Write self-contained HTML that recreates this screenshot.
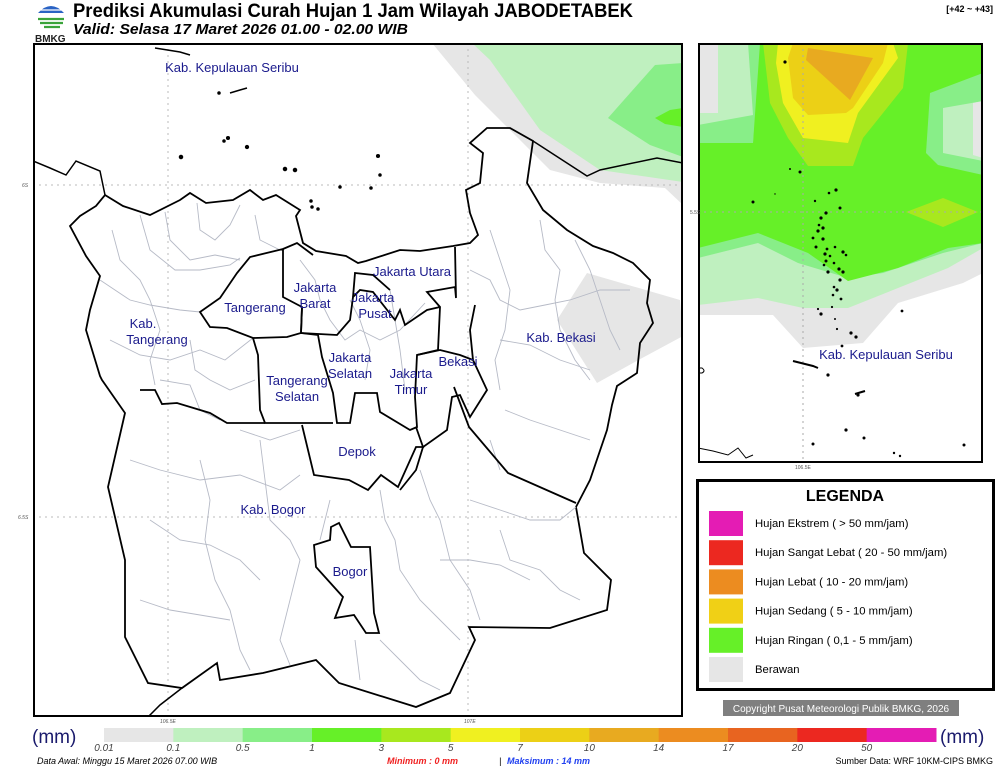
<!DOCTYPE html>
<html><head><meta charset="utf-8"><style>
html,body{margin:0;padding:0;background:#fff;}
body{width:1000px;height:769px;position:relative;overflow:hidden;font-family:"Liberation Sans",sans-serif;}
svg text{font-family:"Liberation Sans",sans-serif;}
</style></head><body>
<svg id="root" width="1000" height="769" viewBox="0 0 1000 769" xmlns="http://www.w3.org/2000/svg">
<g>
  <g>
    <path d="M38 13 Q51 -1 64 13 Z" fill="#2a63c4"/>
    <path d="M36 10 H66" stroke="#fff" stroke-width="1.3"/>
    <path d="M38 19 H64 M40 23 H63 M44 27 H60" stroke="#3aa43a" stroke-width="2.2"/>
    <text x="35" y="42" font-size="10" font-weight="bold" fill="#222">BMKG</text>
  </g>
  <text x="73" y="17" font-size="19" font-weight="bold" fill="#000" textLength="560" lengthAdjust="spacingAndGlyphs">Prediksi Akumulasi Curah Hujan 1 Jam Wilayah JABODETABEK</text>
  <text x="73" y="34" font-size="15" font-weight="bold" font-style="italic" fill="#000" textLength="335" lengthAdjust="spacingAndGlyphs">Valid: Selasa 17 Maret 2026 01.00 - 02.00 WIB</text>
  <text x="993" y="12" font-size="9" font-weight="bold" text-anchor="end" fill="#000">[+42 ~ +43]</text>
</g>

<g>
  <svg x="33" y="43" width="650" height="674" viewBox="33 43 650 674">
    <rect x="33" y="43" width="650" height="674" fill="#fff"/>
    <g>
      <polygon fill="#e6e6e6" points="432,43 683,43 683,205 665,188 600,183 550,170 475,95"/>
      <polygon fill="#bff0bf" points="472,43 683,43 683,182 600,170 540,130 490,60"/>
      <polygon fill="#88ee88" points="655,65 683,63 683,157 650,145 608,118"/>
      <polygon fill="#66f028" points="655,118 670,110 683,108 683,127 665,124"/>
      <polygon fill="#e6e6e6" points="587,273 680,300 683,336 633,363 597,383 557,320"/>
    </g>
    <g stroke="#bbb" stroke-width="1" stroke-dasharray="2,4" fill="none">
      <line x1="168" y1="43" x2="168" y2="717"/><line x1="468" y1="43" x2="468" y2="717"/>
      <line x1="33" y1="185" x2="683" y2="185"/><line x1="33" y1="517" x2="683" y2="517"/>
    </g>
    <polygon fill="none" stroke="#000" stroke-width="1.8" points="105,195 123,206 150,215 180,200 190,193 206,203 233,200 250,190 263,200 276,195 300,210 296,216 303,243 316,251 346,256 358,263 366,261 400,250 420,251 453,246 470,243 478,235 470,213 466,190 480,183 483,153 470,143 487,128 510,128 533,141 527,183 543,210 567,230 593,246 613,253 633,263 650,280 647,303 653,323 640,343 637,373 617,386 612,405 607,430 590,480 576,507 584,553 611,580 607,610 550,628 469,627 475,640 450,693 416,707 339,683 316,660 263,673 220,680 217,663 182,688 148,683 125,637 125,560 108,487 125,413 102,380 100,376 86,330 90,310 100,276 86,256 70,226 80,216 96,206 105,195"/>
    <polyline fill="none" stroke="#000" stroke-width="1.5" points="33,161 50,168 66,175 76,161 100,171 105,195"/>
    <polyline fill="none" stroke="#000" stroke-width="1.5" points="182,688 160,705 148,717"/>
    <polyline fill="none" stroke="#000" stroke-width="1.5" points="533,141 587,176 600,170 657,158 683,163"/>
    <g fill="none" stroke="#b6bac6" stroke-width="0.9">
      <polyline points="112,230 120,260 140,280 150,300 160,330 150,360 155,385"/>
      <polyline points="140,215 150,250 175,270 200,270 230,265 240,258"/>
      <polyline points="165,212 170,240 190,260 215,255 240,260"/>
      <polyline points="197,203 200,230 215,240 230,225 240,205"/>
      <polyline points="100,280 130,300 150,305 180,310 200,312"/>
      <polyline points="110,340 140,355 170,360 200,350 225,360 253,338"/>
      <polyline points="160,380 190,385 200,410 220,420"/>
      <polyline points="190,340 195,370 210,380 230,390 255,380"/>
      <polyline points="255,215 260,240 280,250"/>
      <polyline points="300,260 315,280 320,300 330,320 345,340 360,330 380,340 400,330 425,303"/>
      <polyline points="350,300 360,320 370,350 365,380"/>
      <polyline points="390,290 395,320 400,350 405,390"/>
      <polyline points="470,270 490,280 500,300 520,310 545,305 570,300 600,290 630,290"/>
      <polyline points="490,230 500,260 510,290 505,330 495,360 500,390"/>
      <polyline points="540,220 545,250 560,270 555,300 560,330 575,360 590,380"/>
      <polyline points="575,240 590,270 600,300 610,330 620,350"/>
      <polyline points="500,340 530,345 560,360 590,370"/>
      <polyline points="505,410 530,420 560,430 590,440"/>
      <polyline points="490,440 500,470"/>
      <polyline points="130,460 160,470 200,480 240,475 280,490 300,475"/>
      <polyline points="150,520 180,540 210,545 240,560 260,580"/>
      <polyline points="200,460 210,500 205,540 215,580 230,610 240,650 250,670"/>
      <polyline points="260,440 265,480 270,520 290,540 300,560 290,600 280,640 290,665"/>
      <polyline points="330,500 320,540"/>
      <polyline points="140,600 170,610 200,615 230,620"/>
      <polyline points="380,490 385,520 395,540 400,570 420,600 440,620 460,640"/>
      <polyline points="420,470 430,500 440,520 450,560 470,590 480,620"/>
      <polyline points="470,500 500,510 530,520 560,520 576,507"/>
      <polyline points="500,530 510,560 540,570 560,590 580,600"/>
      <polyline points="380,640 400,660 420,680 440,690"/>
      <polyline points="355,640 360,680"/>
      <polyline points="440,560 470,560 500,565 530,580"/>
      <polyline points="240,430 270,440 300,430"/>
    </g>
    <g fill="none" stroke="#000" stroke-width="1.8">
      <polygon points="200,312 220,298 237,273 250,257 283,249 283,297 302,307 301,333 287,337 253,338 227,328 210,327"/>
      <polyline points="283,249 297,243 313,255"/>
      <polyline points="301,333 318,335 322,357 333,393 337,423 350,423 355,393 377,393 380,412 410,430 417,427 415,397 417,355 438,350 440,307 427,292 455,287 456,298 455,247"/>
      <polyline points="302,307 301,333 337,335 350,320 353,297 360,290 373,292 395,320 400,310 405,325 427,310 440,307"/>
      <polyline points="353,297 355,273 373,275 390,290"/>
      <polyline points="253,338 258,355 260,410 265,423 333,423"/>
      <polyline points="140,390 155,390 162,404 177,403 210,413 227,423 265,423"/>
      <polyline points="302,425 314,475 349,480 368,490 381,475 398,487 416,447 423,447 416,427"/>
      <polyline points="417,355 440,350 460,355 473,360 487,390 470,417 460,395 452,397 447,430 423,447 416,470 400,490"/>
      <polyline points="473,360 470,330 475,305"/>
      <polyline points="454,387 469,427 508,473 576,503"/>
      <polygon points="331,527 339,523 351,547 370,547 374,613 379,633 366,633 354,615 335,618 343,597 316,567 314,545 330,540"/>
    </g>
    <g fill="#000" stroke="#000" stroke-width="1.5">
      <path d="M155,48 L180,52 L190,55" fill="none"/>
      <path d="M230,93 L240,90 L247,88" fill="none"/>
      <circle cx="219" cy="93" r="1"/><circle cx="228" cy="138" r="1.3"/><circle cx="224" cy="141" r="1"/>
      <circle cx="247" cy="147" r="1.4"/><circle cx="181" cy="157" r="1.5"/><circle cx="285" cy="169" r="1.5"/><circle cx="295" cy="170" r="1.5"/>
      <circle cx="378" cy="156" r="1.3"/><circle cx="380" cy="175" r="1"/><circle cx="340" cy="187" r="1"/><circle cx="371" cy="188" r="1"/>
      <circle cx="312" cy="207" r="1"/><circle cx="318" cy="209" r="1"/><circle cx="311" cy="201" r="1"/>
    </g>
    <g fill="#1a1a8c" font-size="13" text-anchor="middle">
      <text x="232" y="72">Kab. Kepulauan Seribu</text>
      <text x="412" y="276">Jakarta Utara</text>
      <text x="315" y="292">Jakarta</text><text x="315" y="308">Barat</text>
      <text x="373" y="302">Jakarta</text><text x="375" y="318">Pusat</text>
      <text x="255" y="312">Tangerang</text>
      <text x="143" y="328">Kab.</text><text x="157" y="344">Tangerang</text>
      <text x="561" y="342">Kab. Bekasi</text>
      <text x="458" y="366">Bekasi</text>
      <text x="350" y="362">Jakarta</text><text x="350" y="378">Selatan</text>
      <text x="411" y="378">Jakarta</text><text x="411" y="394">Timur</text>
      <text x="297" y="385">Tangerang</text><text x="297" y="401">Selatan</text>
      <text x="357" y="456">Depok</text>
      <text x="273" y="514">Kab. Bogor</text>
      <text x="350" y="576">Bogor</text>
    </g>
  </svg>
  <rect x="34" y="44" width="648" height="672" fill="none" stroke="#000" stroke-width="2"/>
  <g font-size="5" fill="#555" font-style="italic">
    <text x="22" y="187">6S</text><text x="18" y="519">6.5S</text>
    <text x="160" y="723">106.5E</text><text x="464" y="723">107E</text>
  </g>
</g>

<g>
  <svg x="698" y="43" width="285" height="420" viewBox="0 0 285 420">
    <rect width="285" height="420" fill="#fff"/>
    <g>
      <polygon fill="#e6e6e6" points="0,0 285,0 285,230 265,240 200,260 165,300 105,305 75,272 0,272"/>
      <polygon fill="#bff0bf" points="0,0 285,0 285,205 250,225 200,245 150,265 105,265 60,255 0,262"/>
      <polygon fill="#88ee88" points="0,0 285,0 285,200 245,210 185,230 150,235 100,220 60,200 0,215"/>
      <polygon fill="#66f028" points="0,100 55,100 62,0 285,0 285,200 250,205 200,225 150,238 110,210 60,190 0,205"/>
      <polygon fill="#88ee88" points="0,0 60,0 55,100 0,100"/>
      <polygon fill="#bff0bf" points="0,0 50,0 55,72 0,82"/>
      <polygon fill="#e6e6e6" points="0,0 20,0 20,70 0,70"/>
      <polygon fill="#88ee88" points="232,50 285,30 285,132 240,122 228,110"/>
      <polygon fill="#bff0bf" points="245,65 285,58 285,118 245,110"/>
      <polygon fill="#e6e6e6" points="275,60 285,58 285,115 275,112"/>
      <polygon fill="#a8e81e" points="65,0 210,0 205,45 165,95 155,123 110,123 90,95 72,60"/>
      <polygon fill="#f0f020" points="80,0 195,0 200,15 160,70 150,100 105,95 85,60 78,20"/>
      <polygon fill="#ecd016" points="95,0 190,0 185,20 155,65 148,70 110,72 95,55 90,15"/>
      <polygon fill="#e8aa20" points="110,5 175,15 152,57 108,17"/>
      <polygon fill="#a8e81e" points="208,169 245,155 280,169 245,184"/>
    </g>
    <g stroke="#aaa" stroke-width="1" stroke-dasharray="2,4">
      <line x1="105" y1="0" x2="105" y2="420"/><line x1="0" y1="169" x2="285" y2="169"/>
    </g>
    <g fill="#000">
      <circle cx="87" cy="19" r="1.6"/><circle cx="92" cy="126" r="1"/><circle cx="102" cy="129" r="1.5"/><circle cx="55" cy="159" r="1.5"/><circle cx="77" cy="151" r="0.7"/>
      <circle cx="138" cy="147" r="1.6"/><circle cx="131" cy="150" r="1.3"/><circle cx="117" cy="158" r="1.2"/><circle cx="142" cy="165" r="1.5"/>
      <circle cx="128" cy="170" r="1.6"/><circle cx="123" cy="175" r="1.6"/><circle cx="121" cy="182" r="1.3"/><circle cx="125" cy="185" r="1.6"/><circle cx="120" cy="188" r="1.6"/>
      <circle cx="115" cy="195" r="1.4"/><circle cx="125" cy="196" r="1.6"/><circle cx="118" cy="204" r="1.5"/><circle cx="129" cy="206" r="1.4"/><circle cx="137" cy="204" r="1.3"/>
      <circle cx="127" cy="211" r="1.6"/><circle cx="132" cy="213" r="1.3"/><circle cx="145" cy="209" r="1.6"/><circle cx="148" cy="212" r="1.3"/><circle cx="128" cy="218" r="1.5"/>
      <circle cx="136" cy="220" r="1.3"/><circle cx="126" cy="222" r="1.3"/><circle cx="141" cy="226" r="1.6"/><circle cx="130" cy="229" r="1.6"/><circle cx="145" cy="229" r="1.6"/>
      <circle cx="142" cy="237" r="1.6"/><circle cx="136" cy="244" r="1.3"/><circle cx="139" cy="247" r="1.6"/><circle cx="135" cy="252" r="1.3"/><circle cx="143" cy="256" r="1.4"/>
      <circle cx="134" cy="264" r="1.1"/><circle cx="120" cy="266" r="1.1"/><circle cx="123" cy="271" r="1.6"/><circle cx="204" cy="268" r="1.4"/><circle cx="137" cy="276" r="1"/>
      <circle cx="139" cy="286" r="1.1"/><circle cx="153" cy="290" r="1.6"/><circle cx="158" cy="294" r="1.6"/><circle cx="144" cy="303" r="1.4"/>
      <circle cx="130" cy="332" r="1.6"/><circle cx="160" cy="352" r="1.6"/><circle cx="148" cy="387" r="1.6"/><circle cx="166" cy="395" r="1.5"/>
      <circle cx="115" cy="401" r="1.5"/><circle cx="196" cy="410" r="1.2"/><circle cx="202" cy="413" r="1.2"/><circle cx="266" cy="402" r="1.5"/>
    </g>
    <path d="M95,318 L115,323 L120,325" stroke="#000" stroke-width="2" fill="none"/>
    <path d="M157,351 L167,348" stroke="#000" stroke-width="2" fill="none"/>
    <path d="M0,325 L4,325 Q8,328 4,330 L0,330" stroke="#000" stroke-width="1" fill="none"/>
    <path d="M0,405 L15,408 L30,412 L40,405 L48,415 L55,412" stroke="#000" stroke-width="1" fill="none"/>
    <text x="188" y="316" font-size="13" text-anchor="middle" fill="#1a1a8c">Kab. Kepulauan Seribu</text>
  </svg>
  <rect x="699" y="44" width="283" height="418" fill="none" stroke="#000" stroke-width="2"/>
  <text x="690" y="214" font-size="5" fill="#555">5.5S</text>
  <text x="795" y="469" font-size="5" fill="#555">106.5E</text>
</g>

<g>
  <rect x="697.5" y="480.5" width="296" height="209" fill="#fff" stroke="#000" stroke-width="3"/>
  <text x="845" y="501" font-size="16" font-weight="bold" text-anchor="middle" fill="#000">LEGENDA</text>
  <g id="legend-rows"></g>
  <rect x="723" y="700" width="236" height="16" fill="#7f7f7f"/>
  <text x="841" y="712" font-size="10" fill="#fff" text-anchor="middle">Copyright Pusat Meteorologi Publik BMKG, 2026</text>
</g>

<g>
  <text x="32" y="743" font-size="19" fill="#1a1a6c">(mm)</text>
  <text x="940" y="743" font-size="19" fill="#1a1a6c">(mm)</text>
  <g id="cbar"></g>
  <g id="cbar-ticks" font-size="10" font-style="italic" fill="#444" text-anchor="middle"></g>
</g>

<g font-size="9" font-style="italic">
  <text x="37" y="764" fill="#000">Data Awal: Minggu 15 Maret 2026 07.00 WIB</text>
  <text x="387" y="764" fill="#f02020" font-weight="bold">Minimum :    0 mm</text>
  <text x="499" y="764" fill="#000">|</text>
  <text x="507" y="764" fill="#2040f0" font-weight="bold">Maksimum :    14 mm</text>
  <text x="993" y="764" fill="#000" text-anchor="end" font-style="normal">Sumber Data: WRF 10KM-CIPS BMKG</text>
</g>
</svg>
<script>
const binColors = ["#e6e6e6","#bff0bf","#88ee88","#66f028","#a8e81e","#f0f020","#ecd016","#e8aa20","#ec8c20","#e86420","#ec2820","#e41cb4"];
const tickLabels = ["0.01","0.1","0.5","1","3","5","7","10","14","17","20","50"];
const legendLabels = ["Hujan Ekstrem ( > 50 mm/jam)","Hujan Sangat Lebat ( 20 - 50 mm/jam)","Hujan Lebat ( 10 - 20 mm/jam)","Hujan Sedang ( 5 - 10 mm/jam)","Hujan Ringan ( 0,1 - 5 mm/jam)","Berawan"];
const legendColors = ["#e41cb4","#ec2820","#ec8c20","#f0d016","#66f028","#e6e6e6"];
const NS="http://www.w3.org/2000/svg";
const x0=104, x1=936, segW=(x1-x0)/binColors.length;
const cx = i => x0 + i*segW;
const cb=document.getElementById('cbar'), ct=document.getElementById('cbar-ticks');
binColors.forEach((c,i)=>{
  const r=document.createElementNS(NS,'rect');
  
  
  r.setAttribute('x',cx(i));r.setAttribute('y',728);r.setAttribute('width',segW+0.5);r.setAttribute('height',14);r.setAttribute('fill',c);
  cb.appendChild(r);
});
tickLabels.forEach((t,i)=>{
  const e=document.createElementNS(NS,'text');
  
  
  e.setAttribute('x',cx(i));e.setAttribute('y',751);e.textContent=t;ct.appendChild(e);
});
const lr=document.getElementById('legend-rows');
legendLabels.forEach((t,i)=>{
  const y=511+i*29.2;
  const r=document.createElementNS(NS,'rect');
  
  
  r.setAttribute('x',709);r.setAttribute('y',y);r.setAttribute('width',34);r.setAttribute('height',25);r.setAttribute('fill',legendColors[i]);
  lr.appendChild(r);
  const e=document.createElementNS(NS,'text');
  
  
  e.setAttribute('x',755);e.setAttribute('y',y+16);e.setAttribute('font-size','11.3');e.setAttribute('fill','#000');e.textContent=t;
  lr.appendChild(e);
});
</script>
</body></html>
